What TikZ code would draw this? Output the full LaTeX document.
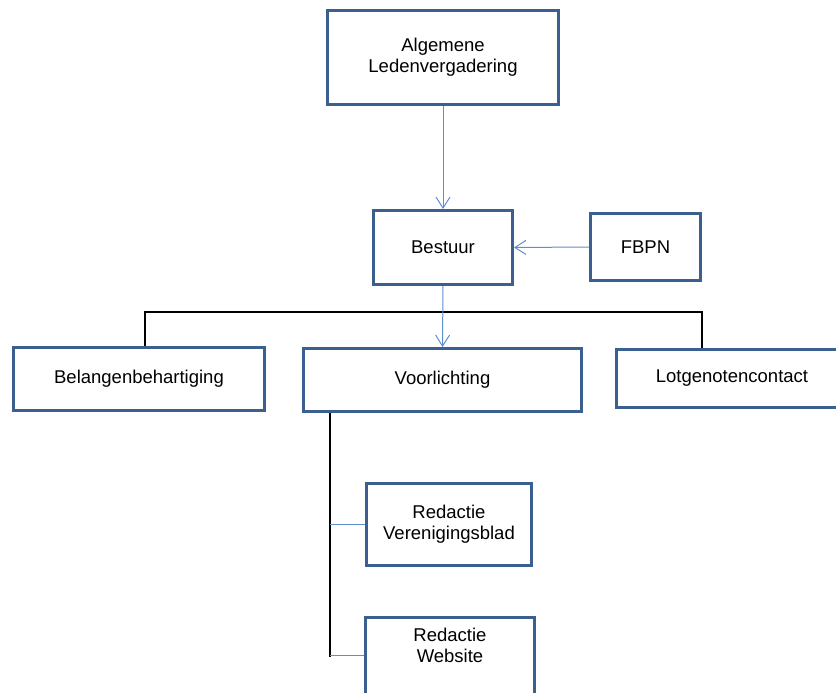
\documentclass[tikz,border=0pt]{standalone}
\usepackage{fontspec}
\setmainfont{Liberation Sans}
\usetikzlibrary{arrows.meta}
\definecolor{boxblue}{RGB}{59,95,143}
\definecolor{linkblue}{RGB}{95,143,203}
\tikzset{
  orgbox/.style={draw=boxblue, line width=3pt, fill=white, inner sep=0pt,
    align=center, font=\fontsize{18.5}{21}\selectfont},
  bluearrow/.style={draw=linkblue, line width=1pt,
    -{Straight Barb[length=11pt,width=14pt,line width=1pt]}},
  blueline/.style={draw=linkblue, line width=1pt},
  blackline/.style={draw=black, line width=1.6pt}
}
\begin{document}
\begin{tikzpicture}[x=1pt,y=-1pt]
\useasboundingbox (0,0) rectangle (836,693);
\node[orgbox, minimum width=231pt, minimum height=94pt] (alv) at (443,57.5) {Algemene\\Ledenvergadering};
\node[orgbox, minimum width=139pt, minimum height=74pt] (bes) at (443,247.5) {Bestuur};
\node[orgbox, minimum width=110pt, minimum height=67pt] (fbpn) at (645.5,247) {FBPN};
\node[orgbox, minimum width=251pt, minimum height=63pt] (bel) at (139,379) {Belangenbehartiging};
\node[orgbox, minimum width=278pt, minimum height=63pt] (voor) at (442.5,380) {Voorlichting};
\node[orgbox, minimum width=231pt, minimum height=58pt] (lot) at (732,378.5) {Lotgenotencontact};
\node[orgbox, minimum width=165pt, minimum height=82pt] (ver) at (449,524.5) {Redactie\\Verenigingsblad};
\node[orgbox, minimum width=169pt, anchor=north, inner ysep=11pt, text depth=60pt] (web) at (450,615.5) {Redactie\\Website};
% connectors
\draw[bluearrow] (alv.south) -- (bes.north);
\draw[bluearrow] (fbpn.west) -- (bes.east);
\coordinate (ha) at (145,312);
\coordinate (hb) at (702,312);
\draw[blackline] (bel.north -| ha) -- (ha) -- (hb) -- (lot.north -| hb);
\draw[bluearrow] (bes.south) -- (voor.north);
\coordinate (vx) at (330,657);
\draw[blackline] (voor.south -| vx) -- (vx);
\coordinate (wy) at (330,655);
\draw[blueline] (ver.west -| vx) -- (ver.west);
\draw[blueline] (wy) -- (wy -| web.west);
\end{tikzpicture}
\end{document}
